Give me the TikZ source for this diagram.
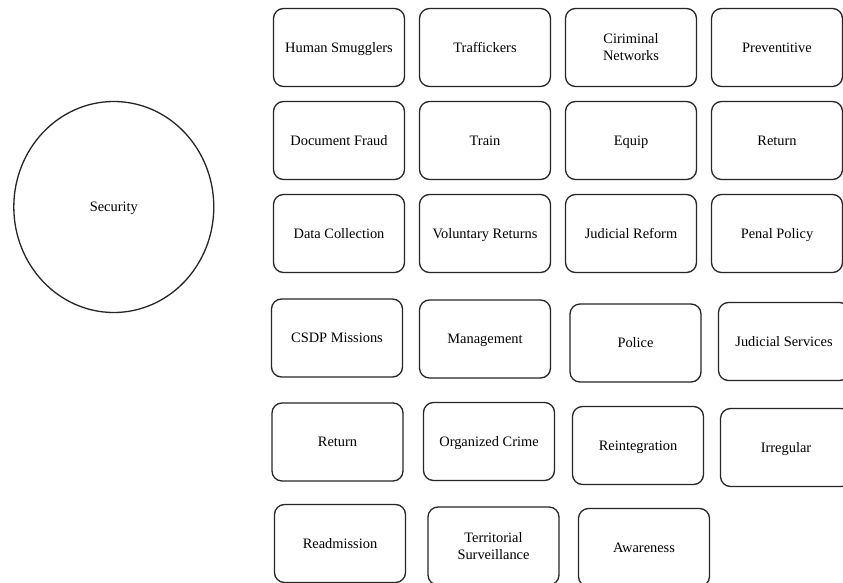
\documentclass[tikz,border=0pt]{standalone}
\usepackage{fontspec}
\setmainfont{Liberation Serif}
\usetikzlibrary{shapes.geometric}
\begin{document}
\begin{tikzpicture}[x=1pt,y=-1pt,
  boxbase/.style={draw=black!85, line width=1.3pt, rounded corners=10pt,
    minimum width=131pt, minimum height=78pt, inner sep=2pt,
    font=\fontsize{14.4}{17}\selectfont},
  itembox/.style={boxbase, text height=9.6pt, text depth=0pt},
  twoline/.style={boxbase, align=center},
  hub/.style={ellipse, draw=black!85, line width=1.3pt,
    minimum width=200pt, minimum height=211pt, inner sep=0pt,
    text height=9.6pt, text depth=0pt,
    font=\fontsize{14.4}{17}\selectfont}]
\path[use as bounding box, fill=white] (0,0) rectangle (843,583);
\begin{scope}
\clip (0,0) rectangle (843,583);
\node[hub] (security) at (113.8,207) {Security};

% row 1
\node[itembox] (smugglers)  at (339,47.5)  {Human Smugglers};
\node[itembox] (traffickers) at (485,47.5) {Traffickers};
\node[twoline] (networks)   at (631,47.5)  {Ciriminal\\Networks};
\node[itembox] (preventive) at (777,47.5)  {Preventitive};
% row 2
\node[itembox] (fraud)  at (339,140.5) {Document Fraud};
\node[itembox] (train)  at (485,140.5) {Train};
\node[itembox] (equip)  at (631,140.5) {Equip};
\node[itembox] (returnA) at (777,140.5) {Return};
% row 3
\node[itembox] (data)      at (339,233.5) {Data Collection};
\node[itembox] (voluntary) at (485,233.5) {Voluntary Returns};
\node[itembox] (reform)    at (631,233.5) {Judicial Reform};
\node[itembox] (penal)     at (777,233.5) {Penal Policy};
% row 4
\node[itembox] (csdp)       at (337,338)   {CSDP Missions};
\node[itembox] (management) at (485,339)   {Management};
\node[itembox] (police)     at (635.5,343) {Police};
\node[itembox] (services)   at (784,341.5) {Judicial Services};
% row 5
\node[itembox] (returnB)   at (337.5,442) {Return};
\node[itembox] (organized) at (489,441.5) {Organized Crime};
\node[itembox] (reint)     at (638,445.5) {Reintegration};
\node[itembox] (irregular) at (786,447.5) {Irregular};
% row 6
\node[itembox] (readmission) at (340,543.5)  {Readmission};
\node[twoline] (surveillance) at (493.5,546) {Territorial\\Surveillance};
\node[itembox] (awareness)   at (644,547.5)  {Awareness};
\end{scope}
\end{tikzpicture}
\end{document}
